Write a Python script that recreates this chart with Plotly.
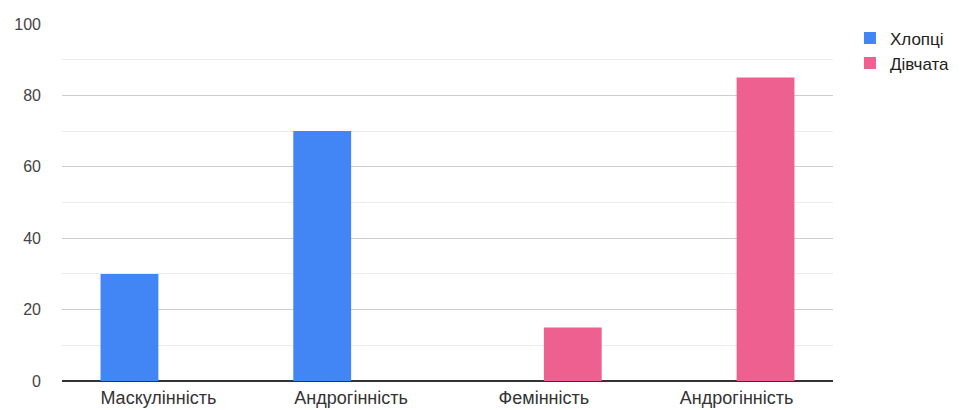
import plotly.graph_objects as go

categories = ["Маскулінність", "Андрогінність", "Фемінність", "Андрогінність"]
boys = [30, 70, None, None]
girls = [None, None, 15, 85]
series_names = ["Хлопці", "Дівчата"]
y_ticks = [0, 20, 40, 60, 80, 100]

positions = list(range(len(categories)))
FONT = "Liberation Sans, Arial, sans-serif"

fig = go.Figure()
fig.add_trace(go.Bar(x=positions, y=boys, name=series_names[0],
                     marker=dict(color="#4285F4", line=dict(width=0))))
fig.add_trace(go.Bar(x=positions, y=girls, name=series_names[1],
                     marker=dict(color="#EE6090", line=dict(width=0))))

fig.update_layout(
    width=958, height=402,
    margin=dict(l=54, r=133, t=16, b=29, autoexpand=False),
    paper_bgcolor="white", plot_bgcolor="white",
    barmode="group", bargap=0.4, bargroupgap=0,
    font=dict(family=FONT, size=16, color="#444444"),
    legend=dict(x=1.022, y=1.01, xanchor="left", yanchor="top",
                font=dict(size=17, color="#222222"),
                bgcolor="rgba(0,0,0,0)", tracegroupgap=0),
    xaxis=dict(tickvals=positions, ticktext=categories, range=[-0.5, len(categories) - 0.5],
               showgrid=False, zeroline=False, showline=False, ticks="",
               ticklabelstandoff=4,
               tickfont=dict(size=18, color="#333333")),
    yaxis=dict(range=[0, 100], tickvals=y_ticks, showgrid=True,
               gridcolor="#cccccc", gridwidth=1, zeroline=True,
               zerolinecolor="#333333", zerolinewidth=1.5,
               ticks="", ticklabelstandoff=20,
               tickfont=dict(size=16, color="#444444"),
               minor=dict(dtick=10, showgrid=True, gridcolor="#ebebeb", gridwidth=1)),
    showlegend=True,
)

fig.write_html("out.html")
